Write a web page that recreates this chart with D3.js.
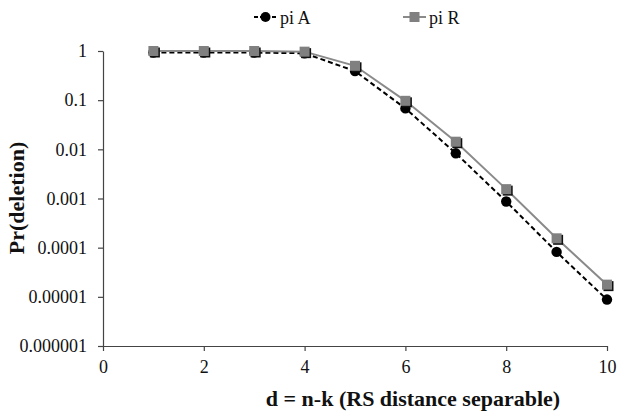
<!DOCTYPE html>
<html>
<head>
<meta charset="utf-8">
<script src="https://cdn.jsdelivr.net/npm/d3@7"></script>
<style>
  body { margin: 0; background: #fff; }
  svg { display: block; }
</style>
</head>
<body>
<svg id="chart" width="618" height="418" font-family="Liberation Serif"></svg>
<script>
// data
const dValues = [1, 2, 3, 4, 5, 6, 7, 8, 9, 10];
const piA = [0.93, 0.93, 0.93, 0.9, 0.39, 0.068, 0.0083, 0.00087, 0.000082, 0.0000088];
const piR = [1, 1, 1, 0.97, 0.5, 0.097, 0.0143, 0.00155, 0.000155, 0.0000177];
const xTicks = [0, 2, 4, 6, 8, 10];
const yTicks = [1, 0.1, 0.01, 0.001, 0.0001, 0.00001, 0.000001];
const yTickLabels = ["1", "0.1", "0.01", "0.001", "0.0001", "0.00001", "0.000001"];

const svg = d3.select("#chart");
const margin = { left: 103, right: 11, top: 51, bottom: 72 };
const W = 618, H = 418;

const x = d3.scaleLinear().domain([0, 10]).range([margin.left, W - margin.right]);
const y = d3.scaleLog().domain([1e-6, 1]).range([H - margin.bottom, margin.top]);

// axes
const xAxis = svg.append("g")
  .attr("transform", `translate(0,${H - margin.bottom})`)
  .call(d3.axisBottom(x).tickValues(xTicks).tickSizeInner(5).tickSizeOuter(0).tickPadding(9));
const yAxis = svg.append("g")
  .attr("transform", `translate(${margin.left},0)`)
  .call(d3.axisLeft(y).tickValues(yTicks).tickFormat((d, i) => yTickLabels[i]).tickSizeInner(5).tickSizeOuter(0).tickPadding(11));

[xAxis, yAxis].forEach(g => {
  g.attr("font-family", "Liberation Serif").attr("font-size", 18);
  g.selectAll("path, line").attr("stroke", "#444").attr("stroke-width", 1.2);
  g.selectAll("text").attr("fill", "#111");
});

// axis titles
svg.append("text")
  .attr("x", 413).attr("y", 406)
  .attr("text-anchor", "middle")
  .attr("font-weight", "bold").attr("font-size", 22)
  .attr("fill", "#111")
  .text("d = n-k (RS distance separable)");
svg.append("text")
  .attr("transform", "translate(24,198) rotate(-90)")
  .attr("text-anchor", "middle")
  .attr("font-weight", "bold").attr("font-size", 22)
  .attr("fill", "#111")
  .text("Pr(deletion)");

const line = d3.line().x((d, i) => x(dValues[i])).y(d => y(d));

// pi A: black dashed with circles
svg.append("path").datum(piA)
  .attr("d", line).attr("fill", "none")
  .attr("stroke", "#000").attr("stroke-width", 2).attr("stroke-dasharray", "5,3");
svg.append("g").selectAll("circle").data(piA).join("circle")
  .attr("cx", (d, i) => x(dValues[i])).attr("cy", d => y(d)).attr("r", 5.2)
  .attr("fill", "#000");

// pi R: gray solid with squares (slight shadow)
svg.append("path").datum(piR)
  .attr("d", line).attr("fill", "none")
  .attr("stroke", "#8a8a8a").attr("stroke-width", 2);
const sq = 10;
svg.append("g").selectAll("rect").data(piR).join("rect")
  .attr("x", (d, i) => x(dValues[i]) - sq / 2 + 1.5).attr("y", d => y(d) - sq / 2 + 1.5)
  .attr("width", sq).attr("height", sq).attr("fill", "#111");
svg.append("g").selectAll("rect").data(piR).join("rect")
  .attr("x", (d, i) => x(dValues[i]) - sq / 2).attr("y", d => y(d) - sq / 2)
  .attr("width", sq).attr("height", sq).attr("fill", "#808080");

// legend
const legend = [
  { name: "pi A", x0: 254, color: "#000", dash: "4,2", shape: "circle" },
  { name: "pi R", x0: 403, color: "#8a8a8a", dash: null, shape: "square" }
];
const lg = svg.append("g").selectAll("g").data(legend).join("g")
  .attr("transform", d => `translate(${d.x0},17)`);
lg.append("line").attr("x1", 0).attr("x2", 23).attr("y1", 0).attr("y2", 0)
  .attr("stroke", d => d.color).attr("stroke-width", 2)
  .attr("stroke-dasharray", d => d.dash);
lg.filter(d => d.shape === "circle").append("circle")
  .attr("cx", 11.5).attr("cy", 0).attr("r", 5).attr("fill", "#000");
lg.filter(d => d.shape === "square").append("rect")
  .attr("x", 6.5).attr("y", -5).attr("width", 10).attr("height", 10).attr("fill", "#808080");
lg.append("text").attr("x", 26).attr("y", 7)
  .attr("font-size", 18).attr("fill", "#111")
  .text(d => d.name);
</script>
</body>
</html>
